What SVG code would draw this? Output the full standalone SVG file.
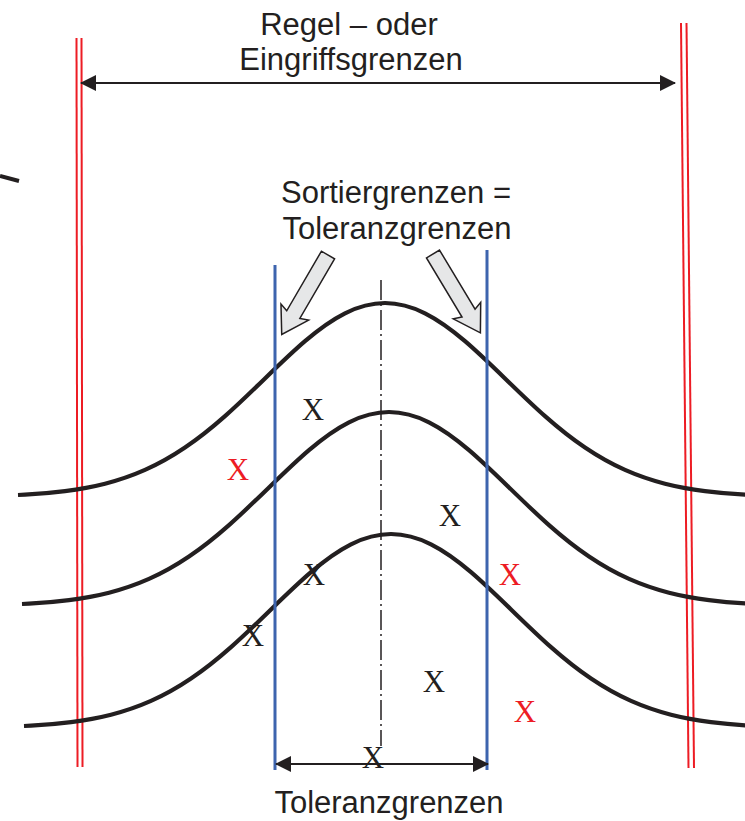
<svg xmlns="http://www.w3.org/2000/svg" xmlns:xlink="http://www.w3.org/1999/xlink" width="745" height="821" viewBox="0 0 745 821">
<style>
.lbl{font-family:"Liberation Sans",Arial,sans-serif;font-size:31px;fill:#231f20;text-anchor:middle}
.x{font-family:"Liberation Serif","Times New Roman",serif;font-size:31px;text-anchor:middle}
.xb{fill:#231f20}
.xr{fill:#ed1c24}
.red{stroke:#ed1c24;stroke-width:2;fill:none}
.blue{stroke:#3d64ae;stroke-width:3;fill:none}
.curve{stroke:#231f20;stroke-width:4.2;fill:none}
.dim{stroke:#231f20;stroke-width:2;fill:none}
.block{fill:#e6e7e8;stroke:#231f20;stroke-width:1.5;stroke-linejoin:miter}
</style>
<defs>
<path id="bell" d="M -367,-2 L -360,-2.3 C -346.67,-3.06 -333.33,-4.19 -320,-5.9 C -306.67,-7.61 -293.33,-9.9 -280,-13.3 C -266.67,-16.7 -253.33,-21.17 -240,-27.1 C -226.67,-33.03 -213.33,-40.49 -200,-49.5 C -186.67,-58.51 -173.33,-69.11 -160,-80.9 C -146.67,-92.69 -133.33,-105.64 -120,-118.6 C -106.67,-131.56 -93.33,-144.54 -80,-155.9 C -66.67,-167.26 -53.33,-177.01 -40,-183.7 C -26.67,-190.39 -13.33,-194 0,-194 C 13.33,-194 26.67,-190.39 40,-183.7 C 53.33,-177.01 66.67,-167.26 80,-155.9 C 93.33,-144.54 106.67,-131.56 120,-118.6 C 133.33,-105.64 146.67,-92.69 160,-80.9 C 173.33,-69.11 186.67,-58.51 200,-49.5 C 213.33,-40.49 226.67,-33.03 240,-27.1 C 253.33,-21.17 266.67,-16.7 280,-13.3 C 293.33,-9.9 306.67,-7.61 320,-5.9 C 333.33,-4.19 346.67,-3.06 360,-2.3 C 366.67,-1.92 373.33,-1.64 380,-1.4"/>
<path id="blockarrow" d="M 0,-7.6 L 69,-7.6 L 66,-16 L 92,0 L 66,16 L 69,7.6 L 0,7.6 Z"/>
<marker id="ah" viewBox="0 0 16 16" refX="15" refY="8" markerWidth="16" markerHeight="16" markerUnits="userSpaceOnUse" orient="auto-start-reverse">
<path d="M0,0 L16,8 L0,16 Z" fill="#231f20"/>
</marker>
</defs>

<g id="stray-mark">
<path d="M0,176 L19,181" stroke="#231f20" stroke-width="4" fill="none"/>
</g>

<g id="control-limits">
<line class="red" x1="76.5" y1="38" x2="77.5" y2="767"/>
<line class="red" x1="81.5" y1="38" x2="82.5" y2="767"/>
<line class="red" x1="681" y1="23" x2="688.5" y2="768"/>
<line class="red" x1="686.5" y1="23" x2="694" y2="768"/>
</g>

<g id="centerline">
<line x1="381" y1="280" x2="381" y2="746" stroke="#231f20" stroke-width="1.5" stroke-dasharray="20 4 2 4"/>
</g>

<g id="curves">
<use xlink:href="#bell" href="#bell" class="curve" transform="translate(385,497)"/>
<use xlink:href="#bell" href="#bell" class="curve" transform="translate(389,606)"/>
<use xlink:href="#bell" href="#bell" class="curve" transform="translate(391,728)"/>
</g>

<g id="tolerance-limits">
<line class="blue" x1="275" y1="265" x2="275" y2="770"/>
<line class="blue" x1="487" y1="250" x2="487" y2="770"/>
</g>

<g id="samples">
<text class="x xb" x="313" y="420">X</text>
<text class="x xr" x="238" y="480">X</text>
<text class="x xb" x="450" y="526">X</text>
<text class="x xb" x="314" y="585">X</text>
<text class="x xr" x="510" y="585">X</text>
<text class="x xb" x="253" y="646">X</text>
<text class="x xb" x="434" y="692">X</text>
<text class="x xr" x="525" y="722">X</text>
<text class="x xb" x="373" y="768">X</text>
</g>

<g id="label-control">
<text class="lbl" x="349" y="35">Regel – oder</text>
<text class="lbl" x="351" y="70">Eingriffsgrenzen</text>
</g>

<g id="label-sort">
<text class="lbl" x="396" y="203">Sortiergrenzen =</text>
<text class="lbl" x="397" y="239">Toleranzgrenzen</text>
</g>

<g id="label-tolerance">
<text class="lbl" x="389" y="813">Toleranzgrenzen</text>
</g>

<g id="connectors">
<line class="dim" x1="81" y1="83" x2="675" y2="83" marker-start="url(#ah)" marker-end="url(#ah)"/>
<line class="dim" x1="276" y1="764" x2="488" y2="764" marker-start="url(#ah)" marker-end="url(#ah)"/>
<use xlink:href="#blockarrow" href="#blockarrow" class="block" transform="translate(328,255) rotate(120.2)"/>
<use xlink:href="#blockarrow" href="#blockarrow" class="block" transform="translate(433,254) rotate(59)"/>
</g>
</svg>
